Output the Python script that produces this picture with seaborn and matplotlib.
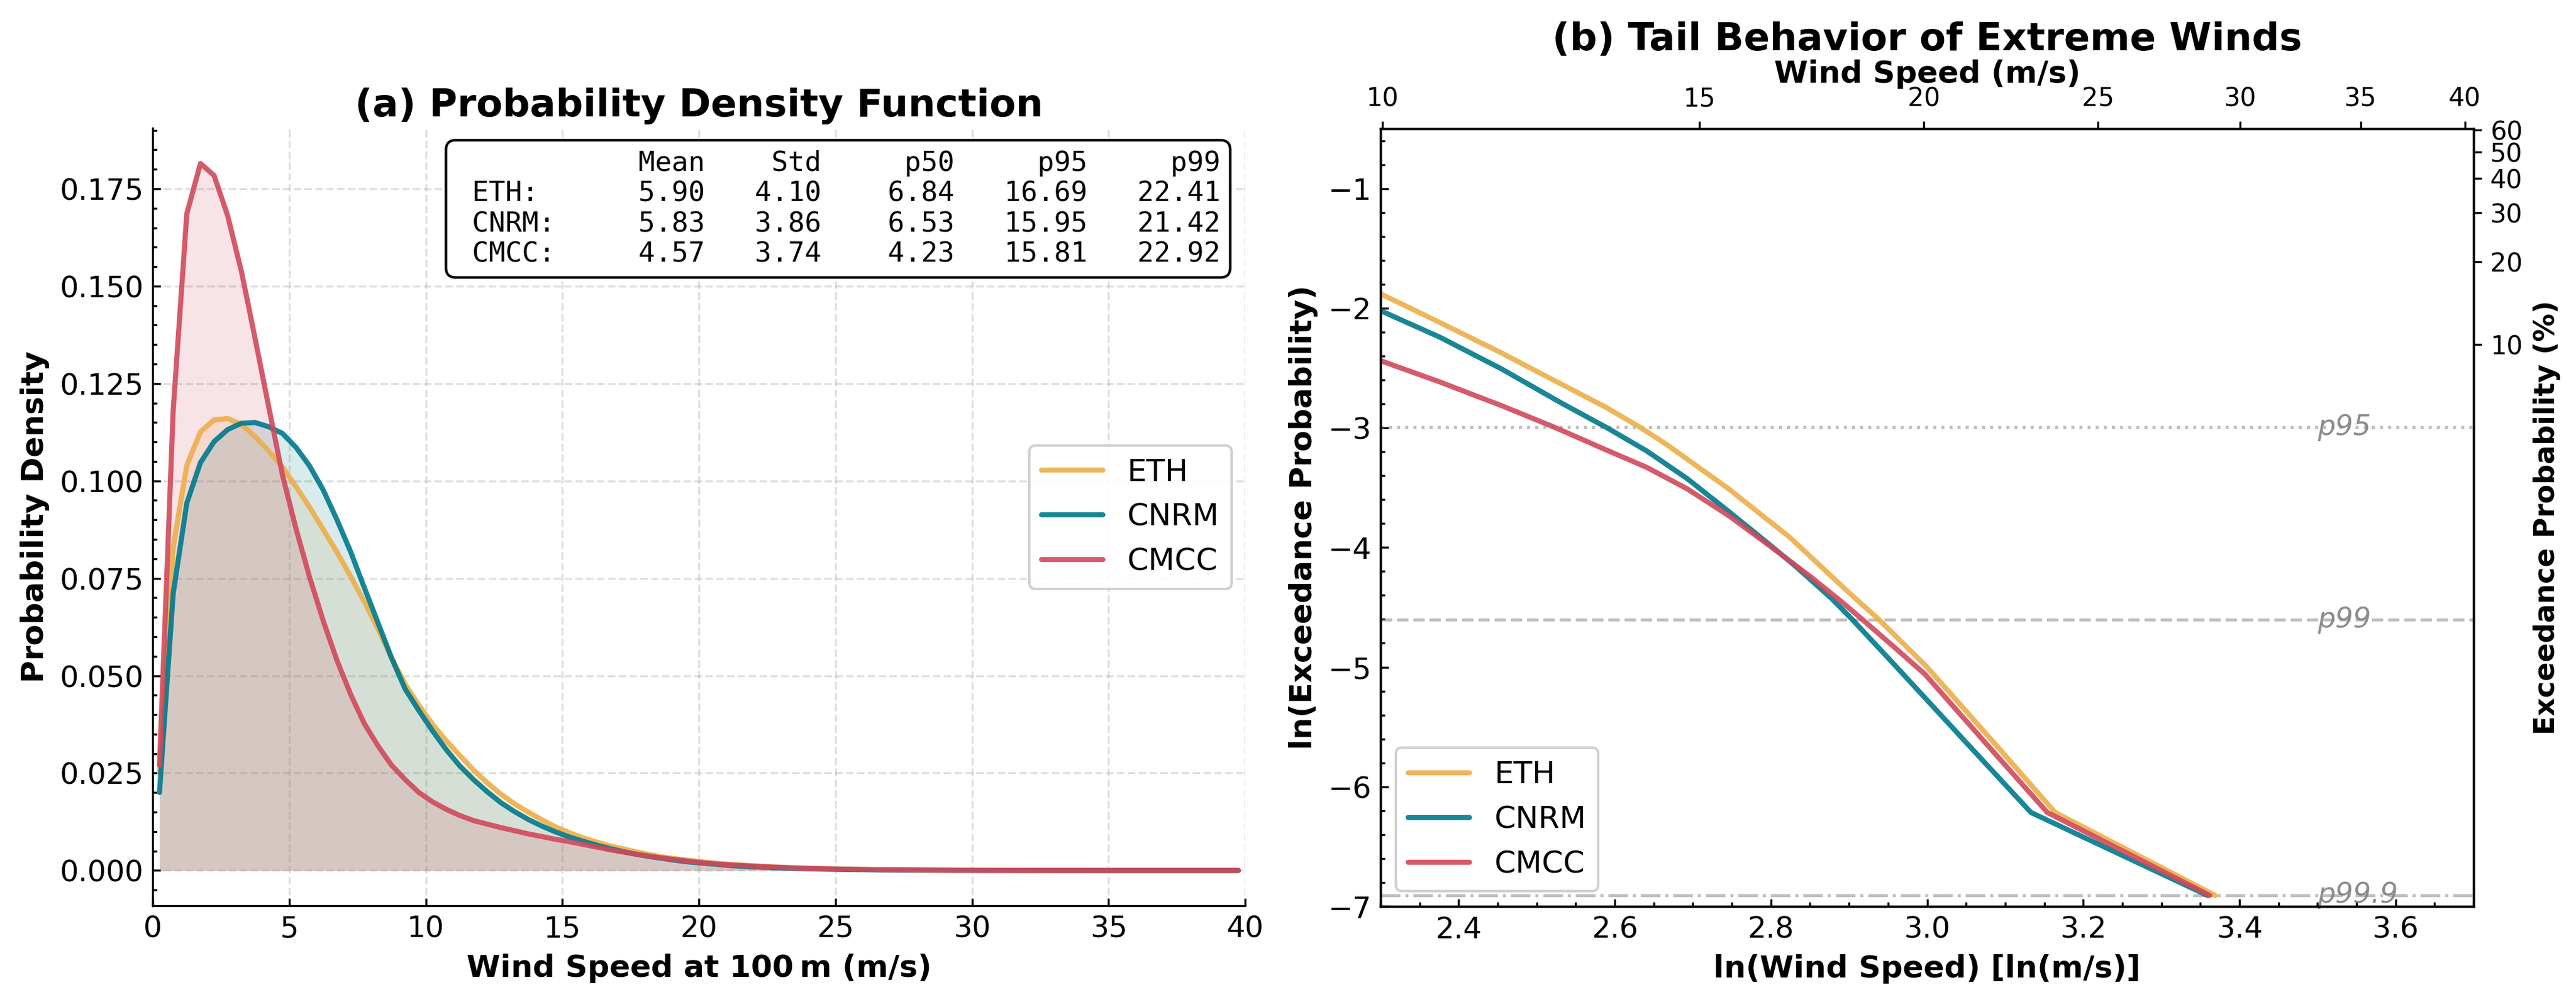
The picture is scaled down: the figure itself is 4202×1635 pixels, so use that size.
import numpy as np
import pandas as pd
import matplotlib
matplotlib.use("Agg")
import matplotlib.pyplot as plt
import seaborn as sns
from matplotlib.ticker import AutoMinorLocator

# ---------------- data ----------------
models = ["ETH", "CNRM", "CMCC"]
colors = ["#EDAE49", "#00798C", "#D1495B"]

# histogram bin centres (m/s)
wind_bins = np.arange(0.25, 40.0, 0.5)

pdf_eth = [
    0.0250, 0.0830, 0.1040, 0.1126, 0.1157, 0.1160, 0.1145, 0.1114, 0.1077, 0.1036,
    0.0985, 0.0932, 0.0875, 0.0817, 0.0755, 0.0690, 0.0620, 0.0545, 0.0478, 0.0424,
    0.0375, 0.0333, 0.0295, 0.0258, 0.0225, 0.0196, 0.0171, 0.0150, 0.0130, 0.0112,
    0.0097, 0.0084, 0.0073, 0.0063, 0.0055, 0.0047, 0.0040, 0.0034, 0.0029, 0.0025,
    0.0021, 0.0018, 0.0015, 0.0013, 0.0011, 0.0009, 0.00075, 0.00063, 0.00052, 0.00043,
    0.00035, 0.00029, 0.00024, 0.00020, 0.00016, 0.00013, 0.00010, 0.00008, 0.00006, 0.00005,
    0.00004, 0.00003, 0.00003, 0.00002, 0.00002, 0.00001, 0.00001, 0.00001, 0.00001, 0.0,
    0.0, 0.0, 0.0, 0.0, 0.0, 0.0, 0.0, 0.0, 0.0, 0.0,
]
pdf_cnrm = [
    0.0200, 0.0710, 0.0943, 0.1047, 0.1101, 0.1132, 0.1148, 0.1150, 0.1139, 0.1122,
    0.1086, 0.1038, 0.0976, 0.0900, 0.0818, 0.0726, 0.0636, 0.0545, 0.0465, 0.0410,
    0.0358, 0.0310, 0.0268, 0.0233, 0.0202, 0.0174, 0.0151, 0.0131, 0.0114, 0.0099,
    0.0086, 0.0075, 0.0065, 0.0056, 0.0048, 0.0041, 0.0035, 0.0030, 0.0025, 0.0021,
    0.0018, 0.0015, 0.0012, 0.0010, 0.00085, 0.0007, 0.00058, 0.00048, 0.0004, 0.00032,
    0.00026, 0.00021, 0.00017, 0.00014, 0.00011, 0.00009, 0.00007, 0.00005, 0.00004, 0.00003,
    0.00003, 0.00002, 0.00002, 0.00001, 0.00001, 0.00001, 0.0, 0.0, 0.0, 0.0,
    0.0, 0.0, 0.0, 0.0, 0.0, 0.0, 0.0, 0.0, 0.0, 0.0,
]
pdf_cmcc = [
    0.0270, 0.1180, 0.1686, 0.1815, 0.1784, 0.1680, 0.1538, 0.1366, 0.1190, 0.1016,
    0.0877, 0.0752, 0.0640, 0.0539, 0.0452, 0.0377, 0.0320, 0.0270, 0.0233, 0.0200,
    0.0176, 0.0157, 0.0141, 0.0128, 0.0119, 0.0110, 0.0102, 0.0094, 0.0087, 0.0080,
    0.0074, 0.0067, 0.0060, 0.0053, 0.0047, 0.0041, 0.0036, 0.0031, 0.0027, 0.0023,
    0.0019, 0.0016, 0.0014, 0.0012, 0.0010, 0.00085, 0.0007, 0.00058, 0.00048, 0.0004,
    0.00033, 0.00027, 0.00022, 0.00018, 0.00015, 0.00012, 0.0001, 0.00008, 0.00006, 0.00005,
    0.00004, 0.00003, 0.00003, 0.00002, 0.00002, 0.00001, 0.00001, 0.00001, 0.00001, 0.0,
    0.0, 0.0, 0.0, 0.0, 0.0, 0.0, 0.0, 0.0, 0.0, 0.0,
]

stat_cols = ["Mean", "Std", "p50", "p95", "p99"]
stats_eth = [5.90, 4.10, 6.84, 16.69, 22.41]
stats_cnrm = [5.83, 3.86, 6.53, 15.95, 21.42]
stats_cmcc = [4.57, 3.74, 4.23, 15.81, 22.92]

# tail: ln(wind speed) vs ln(exceedance probability)
lnws_eth = [2.300, 2.376, 2.455, 2.533, 2.589, 2.632, 2.667, 2.746, 2.824, 2.903, 2.938, 3.000, 3.089, 3.164, 3.369]
lnexc_eth = [-1.880, -2.120, -2.375, -2.640, -2.830, -2.994, -3.142, -3.511, -3.915, -4.396, -4.601, -5.000, -5.657, -6.215, -6.908]
lnws_cnrm = [2.300, 2.376, 2.455, 2.533, 2.589, 2.641, 2.693, 2.746, 2.798, 2.832, 2.877, 2.904, 2.961, 3.050, 3.133, 3.359]
lnexc_cnrm = [-2.021, -2.243, -2.508, -2.798, -2.996, -3.194, -3.426, -3.700, -3.975, -4.160, -4.423, -4.601, -5.000, -5.630, -6.215, -6.908]
lnws_cmcc = [2.300, 2.376, 2.455, 2.523, 2.589, 2.641, 2.693, 2.746, 2.798, 2.850, 2.889, 2.917, 2.958, 2.997, 3.078, 3.154, 3.362]
lnexc_cmcc = [-2.439, -2.617, -2.815, -2.996, -3.185, -3.331, -3.511, -3.735, -3.984, -4.241, -4.446, -4.601, -4.834, -5.058, -5.657, -6.215, -6.908]

ref_labels = ["p95", "p99", "p99.9"]
ref_exceed = [0.05, 0.01, 0.001]
ref_styles = [":", "--", "-."]

top_ticks_ws = [10, 15, 20, 25, 30, 35, 40]
right_ticks_pct = [10, 20, 30, 40, 50, 60]

# ---------------- style ----------------
sns.set_style("ticks")
plt.rcParams.update({
    "font.family": ["DejaVu Sans"],
    "text.color": "black",
    "axes.labelcolor": "black",
    "axes.edgecolor": "black",
    "axes.linewidth": 0.8,
    "xtick.color": "black",
    "ytick.color": "black",
})

fig = plt.figure(figsize=(4202 / 300, 1635 / 300), dpi=300)
ax1 = fig.add_axes([0.05926, 0.09602, 0.42410, 0.77615])
ax2 = fig.add_axes([0.53594, 0.09541, 0.42432, 0.77615])

# ---------------- (a) PDF ----------------
pdfs = [pdf_eth, pdf_cnrm, pdf_cmcc]
df_pdf = pd.concat([
    pd.DataFrame({"ws": wind_bins, "density": np.asarray(p), "model": m})
    for m, p in zip(models, pdfs)
], ignore_index=True)

for m, p, c in zip(models, pdfs, colors):
    ax1.fill_between(wind_bins, 0, p, color=c, alpha=0.15, lw=0, zorder=1)

sns.lineplot(data=df_pdf, x="ws", y="density", hue="model", hue_order=models,
             palette=colors, lw=2.0, alpha=0.9, estimator=None, sort=False,
             ax=ax1, zorder=3)

ax1.set_xlim(0, 40)
ax1.grid(True, linestyle="--", color="#b0b0b0", alpha=0.4, lw=0.8, zorder=0)
ax1.set_axisbelow(True)
sns.despine(ax=ax1)
ax1.yaxis.set_minor_locator(AutoMinorLocator(5))
ax1.tick_params(which="both", direction="in", labelsize=11.5)
ax1.tick_params(which="major", length=3, width=0.8)
ax1.tick_params(which="minor", length=1.6, width=0.8)
ax1.set_xlabel("Wind Speed at 100\u2009m (m/s)", fontsize=12, fontweight="bold")
ax1.set_ylabel("Probability Density", fontsize=12, fontweight="bold")
ax1.set_title("(a) Probability Density Function", fontsize=15, fontweight="bold",
              y=1.015, pad=0)
h, l = ax1.get_legend_handles_labels()
ax1.legend(h, l, loc="center right", fontsize=12, borderaxespad=0.45,
           framealpha=0.9, edgecolor="0.8", fancybox=True)

all_stats = [stats_eth, stats_cnrm, stats_cmcc]
header = " " + " " * 6 + "Mean".rjust(8) + "Std".rjust(7) + "p50".rjust(8) + "p95".rjust(8) + "p99".rjust(8)
rows = [header]
for m, s in zip(models, all_stats):
    rows.append(" " + (m + ":").ljust(6) + f"{s[0]:8.2f}{s[1]:7.2f}{s[2]:8.2f}{s[3]:8.2f}{s[4]:8.2f}")
ax1.text(0.9775, 0.972, "\n".join(rows), transform=ax1.transAxes, ha="right", va="top",
         family="DejaVu Sans Mono", fontsize=10.8, zorder=5,
         bbox=dict(boxstyle="round,pad=0.35", facecolor="white", edgecolor="black", lw=1.0))

# ---------------- (b) tail ----------------
lnws = [lnws_eth, lnws_cnrm, lnws_cmcc]
lnexc = [lnexc_eth, lnexc_cnrm, lnexc_cmcc]
df_tail = pd.concat([
    pd.DataFrame({"lnws": np.asarray(xw), "lnexc": np.asarray(ye), "model": m})
    for m, xw, ye in zip(models, lnws, lnexc)
], ignore_index=True)

sns.lineplot(data=df_tail, x="lnws", y="lnexc", hue="model", hue_order=models,
             palette=colors, lw=2.0, alpha=0.9, estimator=None, sort=False,
             ax=ax2, zorder=3)

ax2.set_xlim(2.3, 3.7)
ax2.set_ylim(-7, -0.5)
for lab, p, ls in zip(ref_labels, ref_exceed, ref_styles):
    ax2.axhline(np.log(p), color="gray", linestyle=ls, lw=1.2, alpha=0.5, zorder=1)
    ax2.text(3.5, np.log(p), lab, fontsize=11, style="italic", color="gray",
             va="center", ha="left", alpha=0.9)

ax2.xaxis.set_minor_locator(AutoMinorLocator(4))
ax2.yaxis.set_minor_locator(AutoMinorLocator(5))
ax2.tick_params(which="both", direction="in", labelsize=11.5)
ax2.tick_params(which="major", length=3, width=0.8)
ax2.tick_params(which="minor", length=1.6, width=0.8)
ax2.set_xlabel("ln(Wind Speed) [ln(m/s)]", fontsize=12, fontweight="bold")
ax2.set_ylabel("ln(Exceedance Probability)", fontsize=12, fontweight="bold")
h, l = ax2.get_legend_handles_labels()
ax2.legend(h, l, loc="lower left", fontsize=12, framealpha=0.9, edgecolor="0.8", fancybox=True)

ax_top = ax2.twiny()
ax_top.set_xlim(ax2.get_xlim())
ax_top.set_xticks(np.log(top_ticks_ws))
ax_top.set_xticklabels([str(v) for v in top_ticks_ws])
ax_top.tick_params(axis="x", direction="out", length=3, width=0.8, labelsize=10)
ax_top.set_xlabel("Wind Speed (m/s)", fontsize=12, fontweight="bold", labelpad=1.5)

ax_right = ax2.twinx()
ax_right.set_ylim(ax2.get_ylim())
ax_right.set_yticks(np.log(np.array(right_ticks_pct) / 100.0))
ax_right.set_yticklabels([str(v) for v in right_ticks_pct])
ax_right.tick_params(axis="y", direction="out", length=3, width=0.8, labelsize=10)
ax_right.set_ylabel("Exceedance Probability (%)", fontsize=11, fontweight="bold")

ax2.set_title("(b) Tail Behavior of Extreme Winds", fontsize=15, fontweight="bold",
              y=1.101, pad=0)

fig.savefig("out.png", dpi=300)
